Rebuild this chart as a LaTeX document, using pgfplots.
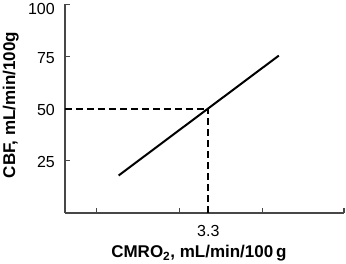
\documentclass[border=0pt]{standalone}
\usepackage{pgfplots}
\pgfplotsset{compat=1.18}
\usepackage{fontspec}
\setmainfont{Liberation Sans}
\begin{document}
\begin{tikzpicture}
\useasboundingbox (-65pt,-51pt) rectangle (281pt,213pt);
\begin{axis}[
  scale only axis,
  width=279pt, height=208.5pt,
  xmin=1.5735, xmax=4.935,
  ymin=0, ymax=100,
  axis x line*=bottom, axis y line*=left,
  axis line style={black!72, line width=1.4pt},
  tick style={black!72, line width=1.2pt},
  tick align=inside,
  major tick length=5pt,
  xtick={1.955,2.951,3.955,4.935},
  xticklabels={},
  extra x ticks={3.3},
  extra x tick labels={3.3},
  extra x tick style={major tick length=0pt},
  ytick={25,50,75},
  extra y ticks={100},
  extra y tick style={yticklabel style={yshift=-3pt}},
  /pgf/number format/assume math mode=true,
  tick label style={font=\fontsize{16}{19}\selectfont},
  yticklabel style={anchor=east, inner sep=0pt, xshift=-10pt, yshift=-1.5pt},
  xticklabel style={anchor=base, inner sep=0pt, yshift=-23.7pt},
  xlabel={CMRO\textsubscript{2}, mL/min/100\,g},
  ylabel={CBF, mL/min/100g},
  xlabel style={at={(axis description cs:0.48,-0.2158)}, anchor=base, font=\bfseries\fontsize{17}{20}\selectfont},
  ylabel style={at={(axis description cs:-0.1792,0.518)}, anchor=base, font=\bfseries\fontsize{17}{20}\selectfont},
  clip=false,
]
\addplot[black, line width=2pt, dash pattern=on 7pt off 4pt] coordinates {(1.5735,50) (3.3,50)};
\addplot[black, line width=2pt, dash pattern=on 7pt off 4pt] coordinates {(3.3,0) (3.3,50)};
\addplot[black, line width=2pt] coordinates {(2.22,18) (4.15,75.5)};
\end{axis}
\end{tikzpicture}
\end{document}
